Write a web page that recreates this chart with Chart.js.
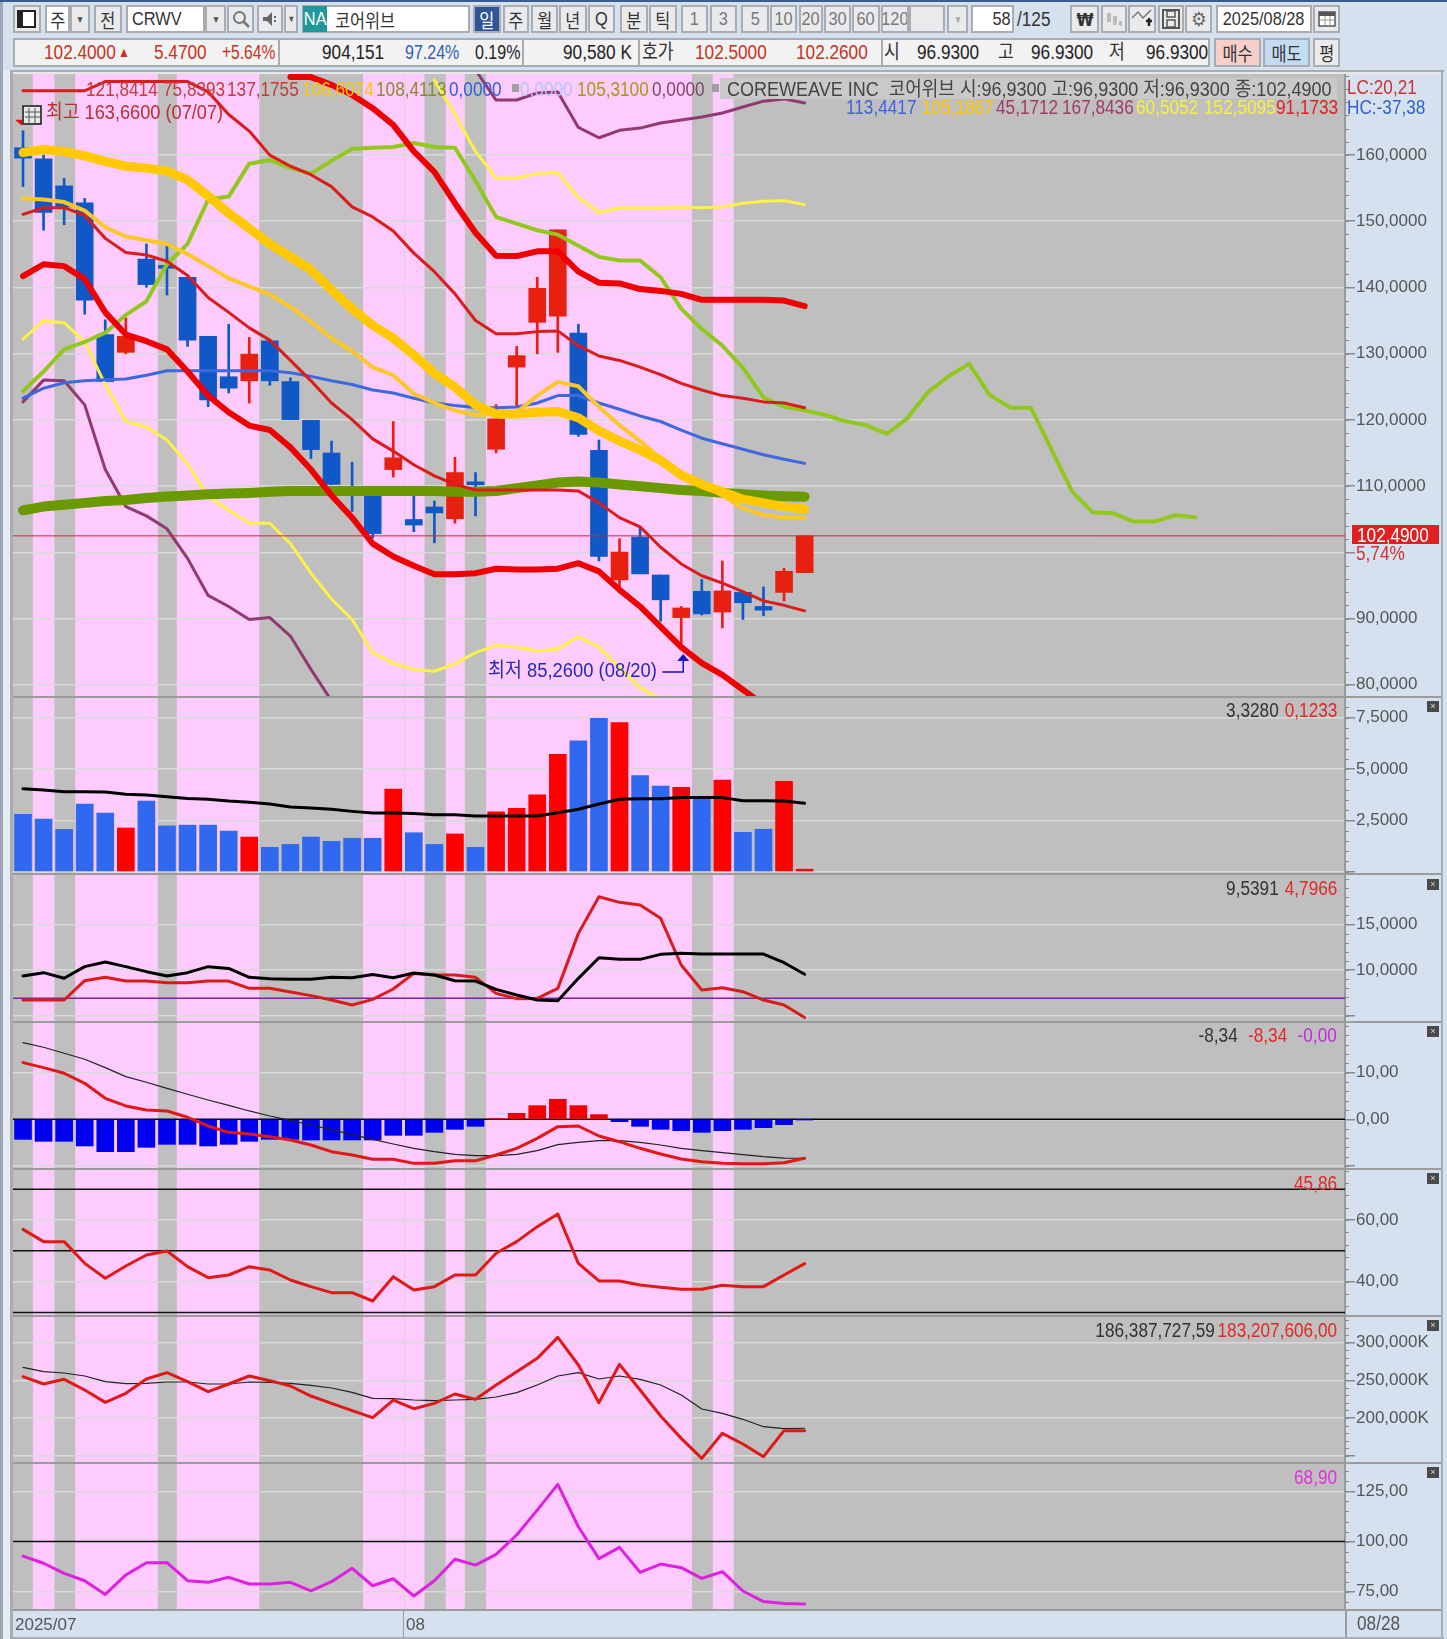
<!DOCTYPE html>
<html lang="ko"><head><meta charset="utf-8"><title>CRWV</title>
<script src="https://cdn.jsdelivr.net/npm/chart.js@4"></script>
<style>
html,body{margin:0;padding:0;background:#d5e1ef}
#root{position:relative;width:1447px;height:1639px;overflow:hidden;background:#d5e1ef;font-family:"Liberation Sans","Noto Sans CJK KR",sans-serif}
#root canvas{position:absolute}
.t{position:absolute;white-space:pre;z-index:5;line-height:1;transform-origin:left center;transform:translateY(-50%) scaleX(.86)}
.t.r{transform-origin:right center}
.b{position:absolute;box-sizing:border-box;z-index:4}
.btn{display:flex;align-items:center;justify-content:center;border:2px solid #a9adb2;background:#e9eaec;color:#333;font-size:19px;overflow:hidden}
.btn span{display:inline-block;transform:scaleX(.86);white-space:pre}
</style></head><body><div id="root"></div>
<script>
// ---------- categories ----------
const dates=['07/07','07/08','07/09','07/10','07/11','07/14','07/15','07/16','07/17','07/18','07/21','07/22','07/23','07/24','07/25','07/28','07/29','07/30','07/31','08/01','08/04','08/05','08/06','08/07','08/08','08/11','08/12','08/13','08/14','08/15','08/18','08/19','08/20','08/21','08/22','08/25','08/26','08/27','08/28'];
// ---------- candles ----------
const open =[161.09,159.42,155.34,152.77,132.89,130.20,144.28,143.33,141.54,132.61,126.52,125.90,131.94,125.79,119.93,115.01,109.70,109.15,112.50,104.96,106.85,105.07,110.65,115.57,127.97,134.73,135.68,133.11,115.40,95.85,102.33,96.58,90.15,94.12,90.99,93.95,91.83,93.95,96.93];
const close=[159.53,151.32,152.16,138.08,125.79,132.61,140.43,142.89,132.05,123.00,124.79,129.93,125.90,120.04,115.51,110.26,108.87,102.83,114.28,104.12,105.96,112.05,110.20,120.15,129.70,139.87,148.69,117.80,99.37,100.04,96.75,92.83,91.60,90.71,94.18,92.39,91.27,97.14,102.49];
const high =[163.66,159.98,156.46,153.44,135.12,135.40,146.57,146.29,141.54,132.61,134.45,132.44,131.94,126.35,119.93,116.80,113.61,109.42,119.76,108.59,107.75,114.34,112.05,122.30,131.10,141.54,148.69,134.45,116.96,102.05,103.84,96.58,91.83,95.91,98.70,93.95,94.79,97.58,102.49];
const low  =[155.23,148.64,149.48,135.96,125.79,129.98,140.04,138.86,131.10,122.00,124.06,122.55,125.23,120.04,114.17,110.26,106.18,102.16,111.38,103.11,101.44,104.40,105.51,115.01,122.00,129.98,130.20,117.52,98.70,94.79,96.75,89.59,85.26,90.54,88.59,89.87,90.43,92.67,96.93];
// ---------- price overlays ----------
const maThickYellow=[160.37,160.82,160.54,159.87,159.03,158.30,158.02,157.58,156.23,153.83,151.21,148.92,146.57,144.62,142.66,139.59,136.80,134.29,132.33,129.81,127.02,124.95,122.27,120.88,120.88,121.16,121.27,120.32,118.36,116.80,115.46,113.89,111.66,110.26,109.15,108.03,107.47,106.91,106.52];
const maOrange=[153.44,153.27,152.89,151.60,149.09,147.69,147.13,146.57,145.06,143.22,141.38,140.15,138.92,137.08,134.84,132.33,130.37,127.97,126.74,123.95,122.55,121.43,120.71,120.88,121.16,123.67,125.74,125.07,121.99,119.20,116.80,114.17,111.94,110.26,108.59,106.63,105.63,105.24,105.19];
const bandLowThick=[141.71,143.50,143.22,141.26,136.24,132.89,131.88,130.65,127.30,123.67,121.16,119.14,118.47,115.85,112.50,108.59,105.24,101.32,99.37,97.97,96.69,96.69,96.86,97.53,97.42,97.42,97.53,98.36,97.13,94.34,91.83,88.76,85.68,83.28,81.50,79.26,77.00,76.30,75.84];
const bandMidThin=[151.04,152.04,152.04,150.87,147.41,145.29,144.90,143.95,141.82,138.47,136.24,133.89,132.05,128.98,125.90,122.55,120.04,117.13,115.29,113.22,111.55,110.26,109.42,109.42,109.42,109.42,109.42,109.26,107.47,105.24,103.84,100.77,98.25,96.47,95.35,94.06,92.67,92.00,91.17];
const bandHighThin=[169.70,169.70,169.70,169.70,171.09,171.09,171.09,171.09,171.09,169.53,166.12,163.61,159.98,158.30,157.02,155.23,152.16,150.65,148.53,145.18,142.38,139.03,135.01,133.00,133.00,133.33,133.44,131.21,129.65,128.98,127.97,126.85,125.51,124.51,123.67,123.28,122.72,122.55,121.84];
const bandHighThick=[null,null,null,null,null,null,null,null,null,null,null,null,null,171.76,171.76,170.59,169.08,167.07,164.56,160.54,157.46,152.72,148.25,144.79,144.73,145.45,145.45,142.38,140.71,140.60,139.76,139.48,139.03,138.14,138.14,138.14,138.14,138.02,137.18];
const maBlue=[123.28,124.79,125.62,125.90,126.07,126.18,126.74,127.41,127.41,127.41,127.41,127.41,127.41,127.13,126.57,125.90,125.34,124.51,124.06,123.28,122.55,122.16,121.88,121.83,121.94,122.55,123.67,123.67,122.55,121.60,120.60,119.76,118.47,117.24,116.41,115.57,114.73,114.06,113.44];
const maGreenThick=[106.35,106.91,107.19,107.47,107.75,107.92,108.20,108.42,108.59,108.76,108.87,108.98,109.15,109.26,109.26,109.26,109.26,109.26,109.26,109.26,109.26,109.15,109.15,109.26,109.70,110.09,110.54,110.71,110.54,110.26,109.98,109.70,109.42,109.26,108.98,108.76,108.59,108.48,108.41];
const spanLightGreen=[124.34,127.30,130.65,131.77,133.17,135.85,137.91,143.50,146.57,153.27,153.72,158.69,159.25,158.02,157.19,159.14,160.93,161.10,161.21,161.82,161.21,161.10,156.07,150.65,149.64,148.64,147.97,146.29,144.62,144.06,144.06,141.54,136.80,133.73,131.21,127.86,123.39,121.99,121.44,120.74,119.79,119.17,117.90,120.27,124.20,126.59,128.47,123.75,121.85,121.85,115.53,109.22,106.07,105.90,104.65,104.65,105.60,105.31];
const yellowLow=[132.21,134.95,134.67,131.77,125.34,119.76,118.92,116.97,113.34,108.42,106.35,104.40,104.40,101.32,96.85,92.95,89.87,84.85,83.28,82.33,82.05,83.17,84.85,85.96,85.68,85.12,85.40,87.25,85.68,82.61,79.54,77.87];
const yellowHigh=[null,null,null,null,null,null,null,null,null,null,null,null,null,null,null,null,null,null,null,null,171.32,166.12,160.54,156.51,156.51,157.19,157.35,153.55,151.32,151.99,151.99,151.99,152.16,152.05,152.16,152.72,153.00,153.11,152.51];
const plumLow=[122.72,126.01,125.90,122.27,112.50,106.91,105.51,103.56,99.09,93.50,91.83,89.87,90.15,87.36,82.33,77.58];
const plumHigh=[null,null,null,null,null,null,null,null,null,null,null,null,null,null,null,null,null,null,null,null,null,null,172.83,168.30,168.30,169.36,169.53,164.17,162.60,163.72,164.06,164.84,165.29,165.73,166.35,167.24,168.13,168.47,167.84];
const lastPrice=102.49;
// ---------- volume ----------
const volume=[2.79,2.57,2.06,3.30,2.86,2.13,3.44,2.23,2.27,2.27,1.98,1.69,1.19,1.33,1.69,1.48,1.63,1.63,4.03,1.90,1.33,1.84,1.19,2.92,3.09,3.74,5.72,6.37,7.47,7.26,4.68,4.17,4.11,3.65,4.47,1.92,2.07,4.40,0.1233];
const volumeUp=[0,0,0,0,0,1,0,0,0,0,0,1,0,0,0,0,0,0,1,0,0,1,0,1,1,1,1,0,0,1,0,0,1,0,1,0,0,1,1];
const volumeMa=[4.04,3.98,3.90,3.90,3.88,3.77,3.74,3.65,3.57,3.53,3.44,3.38,3.30,3.15,3.10,3.04,2.94,2.86,2.86,2.84,2.78,2.78,2.71,2.71,2.71,2.71,2.87,3.04,3.30,3.53,3.55,3.56,3.62,3.62,3.61,3.46,3.46,3.44,3.33];
// ---------- panel 3 ----------
const atrBlack=[9.34,9.71,9.09,10.37,10.88,10.37,9.82,9.34,9.71,10.37,10.18,9.20,9.05,8.98,8.98,9.20,9.16,9.52,9.16,9.67,9.45,8.83,8.79,7.88,7.26,6.71,6.64,9.09,11.35,11.17,11.17,11.72,11.83,11.75,11.75,11.75,11.75,10.80,9.54];
const atrRed=[6.71,6.71,6.71,8.83,9.20,8.79,8.79,8.61,8.61,8.79,8.79,7.99,7.99,7.59,7.19,6.71,6.16,6.78,7.92,9.63,9.45,9.45,9.20,7.44,6.86,6.89,7.99,14.02,18.04,17.42,17.13,15.67,10.55,7.81,8.06,7.62,6.71,6.16,4.80];
const atrLevel=6.9;
// ---------- MACD ----------
const macdLine=[12.14,11.07,9.86,7.71,4.50,2.86,2.00,1.79,0.43,-1.43,-2.79,-3.14,-3.71,-4.43,-5.50,-6.93,-7.64,-8.57,-8.57,-9.43,-9.43,-8.86,-8.86,-7.64,-6.21,-4.07,-1.57,-1.43,-3.57,-4.79,-6.21,-7.43,-8.50,-9.07,-9.43,-9.50,-9.50,-9.29,-8.34];
const macdSignal=[16.43,15.43,14.14,12.86,11.07,9.14,7.93,6.64,5.36,4.14,3.00,1.79,0.71,-0.21,-1.21,-2.21,-3.29,-4.29,-5.29,-6.21,-6.93,-7.50,-7.79,-7.79,-7.50,-6.71,-5.43,-4.93,-4.57,-4.57,-4.93,-5.50,-6.21,-6.71,-7.14,-7.57,-8.00,-8.29,-8.34];
const macdHist=[-4.29,-4.71,-4.71,-5.71,-6.93,-6.93,-6.00,-5.36,-5.36,-5.71,-5.36,-4.71,-4.29,-4.29,-4.43,-4.43,-4.43,-4.43,-3.43,-3.43,-2.79,-2.14,-1.50,0.05,1.29,2.93,4.29,2.93,1.00,-0.50,-1.50,-2.14,-2.43,-2.79,-2.43,-2.14,-1.79,-1.14,-0.07];
// ---------- RSI-like ----------
const rsi=[56.97,52.98,52.98,45.95,41.09,45.09,48.65,49.95,44.87,41.31,42.17,44.87,43.79,40.55,38.39,36.45,36.45,33.74,41.63,37.31,38.39,42.17,42.17,49.20,52.98,57.84,61.95,45.95,40.23,40.23,38.93,38.17,37.53,37.53,38.82,38.39,38.39,42.17,45.86];
const rsiLevels=[70,50,30];
// ---------- OBV-like (millions) ----------
const obvRed=[254.9,245.2,251.4,237.2,220.8,232.8,251.8,260.2,248.3,235.0,245.2,255.8,249.6,242.5,229.2,219.5,209.8,200.5,223.9,212.4,219.5,231.9,224.8,243.8,261.5,279.2,307.1,270.4,220.4,271.3,237.2,202.7,173.0,146.5,179.7,165.5,148.7,183.2,183.2];
const obvBlack=[267.3,261.5,259.8,255.8,248.3,245.6,246.0,247.8,247.8,245.2,245.2,247.8,247.4,246.0,243.4,239.9,234.1,226.1,225.7,223.9,223.0,223.9,224.8,227.9,233.7,243.8,255.8,260.2,251.8,255.8,251.4,243.8,230.6,212.0,206.2,198.3,188.5,185.9,186.4];
// ---------- CCI-like ----------
const pink=[92.8,89.2,84.2,80.5,73.7,83.4,89.5,89.5,80.5,79.7,82.2,78.9,78.9,79.7,75.5,80.0,86.7,78.0,81.5,72.9,80.5,91.2,88.3,93.6,103.3,115.7,128.5,107.4,91.5,97.1,84.7,88.8,87.0,81.7,85.0,75.4,70.1,69.1,68.9];
const pinkLevel=100;
// ---------- bands, axis ----------
const pinkBands=[[0.48,1.53],[2.54,6.55],[7.48,11.49],[16.53,19.52],[20.55,21.48],[22.51,32.52],[33.54,34.55]];
const monthSplit=18.5;
const monthTickAt=[-0.39,18.62];
const monthTickLabels=['2025/07','08'];
const lowIndex=32, highIndex=0;
const priceTicks=[160,150,140,130,120,110,100,90,80];
const priceLabels=['160,0000','150,0000','140,0000','130,0000','120,0000','110,0000','','90,0000','80,0000'];
const volTicks=[7.5,5,2.5,0], volLabels=['7,5000','5,0000','2,5000',''];
const atrTicks=[15,10,5], atrLabels=['15,0000','10,0000',''];
const macdTicks=[10,0,-10], macdLabels=['10,00','0,00',''];
const rsiTicks=[60,40], rsiLabels=['60,00','40,00'];
const obvTicks=[300,250,200,150], obvLabels=['300,000K','250,000K','200,000K',''];
const cciTicks=[125,100,75], cciLabels=['125,00','100,00','75,00'];

const RED='#e8200f',BLUE='#1058c8',xMin=-0.486,xMax=64.27;
const root=document.getElementById('root');
const FONT='"Liberation Sans","Noto Sans CJK KR",sans-serif';
function txt(s,x,y,color,size,sx){const d=document.createElement('div');d.className='t';d.textContent=s;d.style.color=color;d.style.fontSize=(size||20)+'px';d.style.left=x+'px';d.style.top=y+'px';if(sx)d.style.transform=`translateY(-50%) scaleX(${sx})`;root.appendChild(d);return d}
function box(x,y,w,h,bg,z,html){const d=document.createElement('div');d.className='b';d.style.cssText+=`left:${x}px;top:${y}px;width:${w}px;height:${h}px;background:${bg};`+(z?`z-index:${z};`:'');if(html)d.innerHTML=html;root.appendChild(d);return d}
function btn(x0,x1,y0,y1,label,opt){opt=opt||{};const d=document.createElement('div');d.className='b btn';d.style.cssText+=`left:${x0}px;top:${y0}px;width:${x1-x0}px;height:${y1-y0}px;`+(opt.bg?`background:${opt.bg};`:'')+(opt.color?`color:${opt.color};`:'')+(opt.size?`font-size:${opt.size}px;`:'')+(opt.css||'');
 if(opt.html)d.innerHTML=label;else{const s=document.createElement('span');s.textContent=label;d.appendChild(s)}root.appendChild(d);return d}

// ---------- chart plugin ----------
const panelPlugin={id:'panelPlugin',
 beforeDraw(c){const a=c.chartArea,x=c.scales.x,g=c.ctx;g.save();g.fillStyle='#bfbfbf';g.fillRect(a.left,a.top,a.right-a.left,a.bottom-a.top);g.fillStyle='#fecbfe';
  pinkBands.forEach(b=>{const l=x.getPixelForValue(b[0]),r=x.getPixelForValue(b[1]);g.fillRect(l,a.top,r-l,a.bottom-a.top)});g.restore()},
 beforeDatasetsDraw(c){const a=c.chartArea,x=c.scales.x,g=c.ctx,m=Math.round(x.getPixelForValue(monthSplit))+.5;g.save();g.strokeStyle='#d4d4d4';g.lineWidth=1;g.beginPath();g.moveTo(m,a.top);g.lineTo(m,a.bottom);g.stroke();g.restore()},
 afterDraw(c){const y=c.scales.y,a=c.chartArea,g=c.ctx,s=c.options.plugins.panelPlugin.minor;g.save();g.strokeStyle='#8a8a8a';g.lineWidth=1;
  for(let v=Math.ceil(y.min/s)*s;v<=y.max;v+=s){const p=Math.round(y.getPixelForValue(v))+.5;g.beginPath();g.moveTo(a.right,p);g.lineTo(a.right+4,p);g.stroke()}
  if(c.options.plugins.panelPlugin.marks){const x=c.scales.x;
   const tx=x.getPixelForValue(lowIndex)+2,ty=y.getPixelForValue(low[lowIndex])+6;
   g.strokeStyle='#1414c8';g.fillStyle='#1414c8';g.lineWidth=1.5;g.beginPath();g.moveTo(tx-21,ty+16);g.lineTo(tx,ty+16);g.lineTo(tx,ty+4);g.stroke();
   g.beginPath();g.moveTo(tx-6,ty+5);g.lineTo(tx+6,ty+5);g.lineTo(tx,ty-2);g.closePath();g.fill();
   const hx=x.getPixelForValue(highIndex)-5,hy=y.getPixelForValue(high[highIndex])-6;
   g.fillStyle='#e01010';g.beginPath();g.moveTo(hx-3,hy-5);g.lineTo(hx+4,hy-5);g.lineTo(hx+4,hy+1);g.closePath();g.fill();
  }
  g.restore()}};

function L(vals,color,width,order,extra){return Object.assign({type:'line',data:vals.map((v,i)=>({x:i,y:v})),borderColor:color,borderWidth:width,pointRadius:0,tension:0,order:order,borderJoinStyle:'round',borderCapStyle:'round',spanGaps:false},extra||{})}
function H(v,color,width,order){return {type:'line',data:[{x:xMin,y:v},{x:xMax,y:v}],borderColor:color,borderWidth:width,pointRadius:0,order:order}}
function Bars(vals,colors,order,thick){return {type:'bar',data:vals.map((v,i)=>({x:i,y:v})),backgroundColor:colors,barThickness:thick||17,grouped:false,order:order,borderWidth:0}}

function panel(cfg){const cv=document.createElement('canvas');const h=cfg.bottom-cfg.top+(cfg.dateAxis?27:0);cv.width=1430;cv.height=h;cv.style.left='13px';cv.style.top=cfg.top+'px';cv.style.width='1430px';cv.style.height=h+'px';root.appendChild(cv);
 const x=cfg.dateAxis?{type:'linear',offset:false,min:xMin,max:xMax,position:'bottom',afterBuildTicks:a=>{a.ticks=monthTickAt.map(v=>({value:v}))},afterFit:a=>{a.height=27;a.paddingLeft=0;a.paddingRight=0},
   ticks:{callback:(v,i)=>monthTickLabels[i],color:'#555',font:{family:FONT,size:17},align:'start',autoSkip:false,maxRotation:0,padding:5},grid:{display:false,drawTicks:false},border:{display:false}}:{type:'linear',offset:false,grid:{offset:false},min:xMin,max:xMax,display:false};
 new Chart(cv,{data:{datasets:cfg.datasets},plugins:[panelPlugin],options:{responsive:false,maintainAspectRatio:false,animation:false,layout:{padding:0},
  plugins:{legend:{display:false},tooltip:{enabled:false},panelPlugin:{minor:cfg.minor,marks:cfg.marks}},
  scales:{x,y:{type:'linear',position:'right',min:cfg.min,max:cfg.max,afterBuildTicks:a=>{a.ticks=cfg.ticks.map(v=>({value:v}))},afterFit:a=>{a.width=98;a.paddingTop=0;a.paddingBottom=0},
   ticks:{callback:(v,i)=>cfg.labels[i],color:'#555',font:{family:FONT,size:17},padding:1,autoSkip:false,maxRotation:0},
   grid:{color:'#d9d9d9',lineWidth:1.5,tickLength:10,tickColor:'#8a8a8a'},border:{display:true,color:'#9a9a9a',width:2}}}}});
}

// ---------- panels ----------
const upCol=(u)=>u.map(v=>v?'#ff0000':'#3068f0');
const candleCols=open.map((o,i)=>close[i]>=o?RED:BLUE);
panel({top:74,bottom:696,min:78.31,max:172.23,ticks:priceTicks,labels:priceLabels,minor:2,marks:true,datasets:[
 {type:'bar',data:dates.map((d,i)=>({x:i,y:[low[i],high[i]]})),backgroundColor:candleCols,barThickness:2,grouped:false,order:21,borderWidth:0},
 {type:'bar',data:dates.map((d,i)=>({x:i,y:[open[i],close[i]]})),backgroundColor:candleCols,barThickness:17,grouped:false,order:20,borderWidth:0},
 L(plumLow,'#903a70',3,19),L(plumHigh,'#903a70',3,19),
 L(yellowLow,'#fbf246',3,18),L(yellowHigh,'#fbf246',3,18),
 L(spanLightGreen,'#92c81e',4,17),
 L(maGreenThick,'#6a9a00',10,12),
 L(maBlue,'#3f68e0',3,11),
 L(bandHighThin,'#dc1c1c',3,10),L(bandMidThin,'#dc1c1c',3,10),
 L(maOrange,'#fcc828',4,9),
 L(maThickYellow,'#ffc800',9,8),
 L(bandHighThick,'#f00000',6,7),L(bandLowThick,'#f00000',6,7),
 H(lastPrice,'#d8203c',1,1)]});
panel({top:697,bottom:874,min:-0.11,max:8.51,ticks:volTicks,labels:volLabels,minor:0.5,datasets:[
 Bars(volume,upCol(volumeUp),5),L(volumeMa,'#000000',3,1)]});
panel({top:874,bottom:1022,min:4.30,max:20.53,ticks:atrTicks,labels:atrLabels,minor:1,datasets:[
 H(atrLevel,'#8020a0',1.5,5),L(atrRed,'#d81c1c',3,2),L(atrBlack,'#000000',3,1)]});
panel({top:1022,bottom:1169,min:-10.64,max:20.84,ticks:macdTicks,labels:macdLabels,minor:2,datasets:[
 H(0,'#000000',1.5,6),Bars(macdHist,macdHist.map(v=>v>=0?'#f00000':'#0000f0'),5),L(macdSignal,'#222222',1.2,2),L(macdLine,'#e01818',3,1)]});
panel({top:1169,bottom:1316,min:28.88,max:76.53,ticks:rsiTicks,labels:rsiLabels,minor:4,datasets:[
 ...rsiLevels.map(v=>H(v,'#111111',1.5,5)),L(rsi,'#e01818',3,1)]});
panel({top:1316,bottom:1463,min:140.3,max:335.44,ticks:obvTicks,labels:obvLabels,minor:10,datasets:[
 L(obvBlack,'#222222',1.2,2),L(obvRed,'#e01818',3,1)]});
panel({top:1463,bottom:1610,dateAxis:true,min:65.92,max:139.16,ticks:cciTicks,labels:cciLabels,minor:5,datasets:[
 H(pinkLevel,'#111111',1.5,5),L(pink,'#e020e0',3,1)]});

// ---------- frame ----------
box(0,0,1447,2,'#3a5a96');
box(0,2,3,1637,'#9ea8b4');box(3,70,7,1569,'#e6ecf3');
box(10,70,1434,2,'#a8adb3');box(10,72,3,1566,'#a8adb3');box(1441,70,2,1568,'#a8adb3');box(10,1637,1434,2,'#a8adb3');
box(13,72,1428,2,'#e8e8e8');
[697,874,1022,1169,1316,1463,1610].forEach(y=>box(13,y-1,1428,2,'#9b9b9b',3));
box(403,1610,1,27,'#9b9b9b');box(1345,1610,2,27,'#9b9b9b');
[707,885,1032,1179,1326,1473].forEach(y=>box(1427,y-6,12,11,'#4a4a4a',6,'<div style="color:#ddd;font-size:9px;line-height:11px;text-align:center">×</div>'));

// ---------- toolbar row 1 ----------
const Y0=5,Y1=33;
btn(13,41,Y0,Y1,'<svg width="20" height="20"><rect x="1" y="2" width="17" height="16" fill="#fff" stroke="#222" stroke-width="2"/><rect x="1" y="2" width="5" height="16" fill="#222"/></svg>',{html:true});
btn(45,70,Y0,Y1,'주',{bg:'#fff'});btn(70,90,Y0,Y1,'▼',{size:10,color:'#555'});
btn(94,122,Y0,Y1,'전');
btn(126,205,Y0,Y1,'CRWV',{bg:'#fff',css:'justify-content:flex-start;padding-left:0;'});btn(205,226,Y0,Y1,'▼',{size:10,color:'#555'});
btn(227,254,Y0,Y1,'<svg width="18" height="18"><circle cx="7.5" cy="7.5" r="5.5" fill="none" stroke="#777" stroke-width="2"/><line x1="11.5" y1="11.5" x2="17" y2="17" stroke="#777" stroke-width="2.5"/></svg>',{html:true});
btn(257,283,Y0,Y1,'<svg width="18" height="18"><polygon points="2,7 6,7 11,2 11,16 6,11 2,11" fill="#666"/><rect x="13" y="6" width="2" height="2" fill="#666"/><rect x="13" y="10" width="2" height="2" fill="#666"/></svg>',{html:true});btn(284,298,Y0,Y1,'▼',{size:9,color:'#555'});
btn(302,470,Y0,Y1,'코어위브',{bg:'#fff',css:'justify-content:flex-start;padding-left:26px;'});
btn(303,327,Y0+1,Y1-1,'NA',{bg:'#20979a',color:'#fff',css:'border:none;z-index:5;'});
btn(473,501,Y0,Y1,'일',{bg:'#2f5597',color:'#fff'});
[[503,529,'주'],[531,558,'월'],[559,587,'년'],[588,615,'Q'],[620,648,'분'],[649,677,'틱']].forEach(b=>btn(b[0],b[1],Y0,Y1,b[2]));
[[681,708,'1'],[710,737,'3'],[741,769,'5'],[770,797,'10'],[799,823,'20'],[824,851,'30'],[852,880,'60'],[881,909,'120']].forEach(b=>btn(b[0],b[1],Y0,Y1,b[2],{color:'#777'}));
btn(909,945,Y0,Y1,'');btn(947,968,Y0,Y1,'▼',{size:10,color:'#aaa'});
btn(971,1014,Y0,Y1,'58',{bg:'#fff',css:'justify-content:flex-end;padding-right:0;'});
txt('/125',1017,19,'#333');
btn(1070,1099,Y0,Y1,'₩',{size:18,css:"font-family:'DejaVu Sans';font-weight:bold;"});
btn(1101,1127,Y0,Y1,'<svg width="18" height="18" fill="#bbb"><rect x="2" y="3" width="4" height="9"/><rect x="8" y="6" width="4" height="9"/><rect x="14" y="11" width="3" height="5"/></svg>',{html:true});
btn(1128,1156,Y0,Y1,'<svg width="22" height="20"><polyline points="1,9 7,3 12,9 20,1" fill="none" stroke="#777" stroke-width="1.5"/><path d="M15 12h6M18 9v8" stroke="#222" stroke-width="2.5"/></svg>',{html:true});
btn(1158,1184,Y0,Y1,'<svg width="18" height="20"><rect x="1" y="1" width="16" height="18" fill="none" stroke="#555" stroke-width="2"/><rect x="5" y="2" width="8" height="6" fill="none" stroke="#555" stroke-width="1.5"/><rect x="5" y="11" width="8" height="7" fill="none" stroke="#555" stroke-width="1.5"/></svg>',{html:true});
btn(1185,1212,Y0,Y1,'⚙',{size:20,color:'#666',css:"font-family:'DejaVu Sans';"});
btn(1216,1312,Y0,Y1,'2025/08/28',{bg:'#fff'});
btn(1313,1340,Y0,Y1,'<svg width="18" height="16"><rect x="1" y="1" width="16" height="14" fill="#fff" stroke="#555" stroke-width="1.5"/><rect x="1" y="1" width="16" height="4" fill="#555"/><path d="M1 9h16M7 5v10M12 5v10" stroke="#999"/></svg>',{html:true});

// ---------- row 2 ----------
box(13,38,1197,29,'#f2f2f2').style.border='2px solid #a9adb2';
[278,522,638,881].forEach(x=>box(x,38,2,29,'#a9adb2',5));
const RY=52,R2='#c83222';
txt('102.4000',44,RY,R2);txt('▲',118,RY,R2,14);txt('5.4700',154,RY,R2);txt('+5.64%',222,RY,R2,20,.78);
txt('904,151',322,RY,'#222');txt('97.24%',405,RY,'#3060b0',20,.8);txt('0.19%',475,RY,'#222',20,.8);
txt('90,580 K',563,RY,'#222');txt('호가',642,RY,'#333');txt('102.5000',695,RY,R2);txt('102.2600',796,RY,R2);
txt('시',884,RY,'#333');txt('96.9300',917,RY,'#222');txt('고',998,RY,'#333');txt('96.9300',1031,RY,'#222');txt('저',1109,RY,'#333');txt('96.9300',1146,RY,'#222');
btn(1214,1261,38,67,'매수',{bg:'#f6cfc8'});btn(1263,1310,38,67,'매도',{bg:'#c4dcf3'});btn(1313,1340,38,67,'평');

// ---------- legends, main panel ----------
box(720,78,617,21,'#c9c9c9',4);
txt('COREWEAVE INC  코어위브 시:96,9300 고:96,9300 저:96,9300 종:102,4900',727,89,'#444',20,.9);
const LG=[['121,8414',86,'#c83a3a'],['75,8393',163,'#c83a3a'],['137,1755',227,'#c83a3a'],['106,6074',302,'#ffc800'],['108,4113',376,'#8a8a30'],['0,0000',449,'#3060e0'],['0,0000',520,'#b4c4ff'],['105,3100',577,'#a89a10'],['0,0000',652,'#804a68']];
LG.forEach(l=>txt(l[0],l[1],89,l[2]));
box(512,84,7,8,'#a0a0a0',5);box(712,84,7,8,'#a0a0a0',5);
const LG2=[['113,4417',846,'#3a64e0'],['105,1867',922,'#ffc800'],['45,1712',996,'#a03a68'],['167,8436',1062,'#a03a68'],['60,5052',1136,'#f8f040'],['152,5095',1204,'#f8f040'],['91,1733',1276,'#e02020']];
LG2.forEach(l=>txt(l[0],l[1],107,l[2]));
box(22,105,20,20,'#eee',6,'<svg width="20" height="20" style="display:block"><rect x="1" y="1" width="18" height="18" fill="#e8e8e8" stroke="#111" stroke-width="1.5"/><path d="M7 3v15M13 3v15M3 7h15M3 12h15" stroke="#555"/></svg>');
txt('최고 163,6600 (07/07)',46,112,'#b83030',20,.91);
txt('최저 85,2600 (08/20)',488,670,'#2828b8',20,.92);
txt('LC:20,21',1347,87,'#c83232');txt('HC:-37,38',1347,107,'#3264c8');
box(1352,525,87,19,'#e02020',4);txt('102,4900',1357,535,'#fff');
txt('5,74%',1356,553,'#d83030');

// ---------- sub-panel values ----------
function vals(y,items,gap){let d=document.createElement('div');d.className='t r';d.style.right=(1447-1337)+'px';d.style.top=y+'px';d.style.fontSize='20px';items.forEach((it,i)=>{const s=document.createElement('span');s.textContent=it[0];s.style.color=it[1];if(i)s.style.marginLeft=(gap||7)+'px';d.appendChild(s)});root.appendChild(d)}
vals(710,[['3,3280','#333'],['0,1233','#e02828']]);
vals(888,[['9,5391','#333'],['4,7966','#e02828']]);
vals(1035,[['-8,34','#333'],['-8,34','#e02828'],['-0,00','#c030d8']],12);
vals(1183,[['45,86','#e02828']]);
vals(1330,[['186,387,727,59','#333'],['183,207,606,00','#e02828']],3);
vals(1477,[['68,90','#e030e0']]);
txt('08/28',1357,1623,'#555');
</script></body></html>
